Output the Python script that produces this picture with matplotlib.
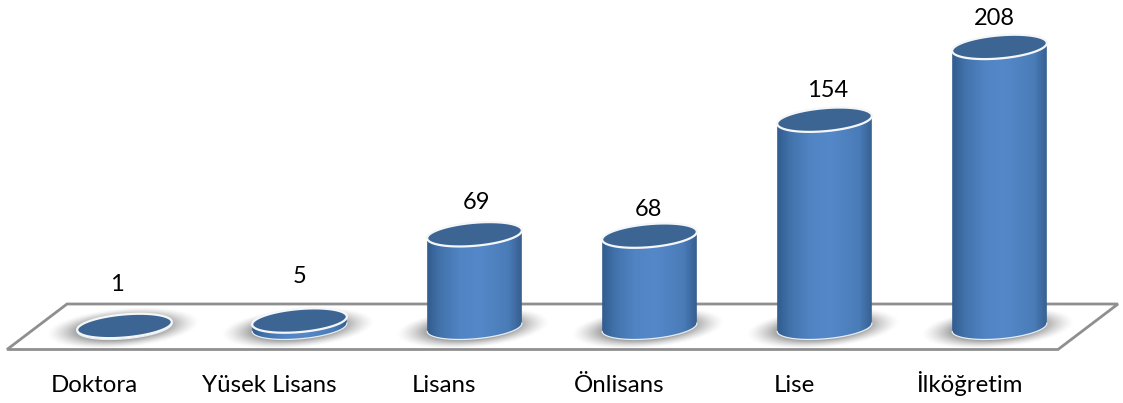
import numpy as np
import matplotlib
matplotlib.use("Agg")
import matplotlib.pyplot as plt
from matplotlib.colors import LinearSegmentedColormap, to_rgb
from matplotlib.patches import PathPatch, Polygon
from matplotlib.path import Path
from matplotlib.transforms import Affine2D

categories = ["Doktora", "Yüsek Lisans", "Lisans", "Önlisans", "Lise", "İlköğretim"]
values = [1, 5, 69, 68, 154, 208]

W, H = 1123, 403
PX_PER_CAT = 175.0
PX_PER_VAL = 1.348
X0_PX, Y0_PX = 124.5, 327.3
A, B, TILT = 47.5, 11.5, np.deg2rad(5)
label_offsets_px = [(-7.5, 35), (0, 37.6), (2, 25), (-1, 19.6), (3, 22.7), (-5, 21.9)]

plt.rcParams["font.family"] = ["Lato", "DejaVu Sans"]
fig = plt.figure(figsize=(W / 100, H / 100), dpi=100, facecolor="white")
ax = fig.add_axes([0, 0, 1, 1])
ax.set_xlim(-X0_PX / PX_PER_CAT, (W - X0_PX) / PX_PER_CAT)
ax.set_ylim((Y0_PX - H) / PX_PER_VAL, Y0_PX / PX_PER_VAL)
ax.axis("off")

pix = Affine2D().scale(1 / W, -1 / H).translate(0, 1) + fig.transFigure
ax.add_patch(Polygon([(7, 349.5), (67, 304), (1118, 304), (1058, 349.5)], closed=True,
                     fc="white", ec="#8f8f8f", lw=2.0, transform=pix, zorder=1))


def ellipse(i, v, t, a=A, b=B):
    dx = a * np.cos(t) * np.cos(TILT) - b * np.sin(t) * np.sin(TILT)
    dy = a * np.cos(t) * np.sin(TILT) + b * np.sin(t) * np.cos(TILT)
    return i + dx / PX_PER_CAT, v + dy / PX_PER_VAL


body_cmap = LinearSegmentedColormap.from_list(
    "cyl", [(0, "#2f5a8c"), (0.14, "#4272aa"), (0.35, "#5084c3"), (0.55, "#5588c9"),
            (0.85, "#4a7cb8"), (1, "#345c8c")])
grad = np.linspace(0, 1, 256)[None, :]
shadow_rgb = to_rgb("#7a7a7a")

for i, (name, v) in enumerate(zip(categories, values)):
    # soft shadow on the platform
    sx = np.linspace(-90, 90, 240)
    sy = np.linspace(-26, 26, 100)
    xx, yy = np.meshgrid(sx, sy)
    u = (xx + 2) * np.cos(TILT) + (yy + 1) * np.sin(TILT)
    w = -(xx + 2) * np.sin(TILT) + (yy + 1) * np.cos(TILT)
    r = np.sqrt((u / 77) ** 2 + (w / 20) ** 2)
    alpha = np.clip((1 - r) / 0.5, 0, 1) ** 1.4 * 0.95
    img = np.zeros(alpha.shape + (4,))
    img[..., :3] = shadow_rgb
    img[..., 3] = alpha
    ax.imshow(img, origin="lower", aspect="auto", zorder=2, interpolation="bilinear",
              extent=[i - 90 / PX_PER_CAT, i + 90 / PX_PER_CAT, -26 / PX_PER_VAL, 26 / PX_PER_VAL])

    # cylinder side
    t_low = np.linspace(np.pi, 2 * np.pi, 80)
    bx, by = ellipse(i, 0, t_low)
    t_up = np.linspace(0, np.pi, 80)
    tx, ty = ellipse(i, v, t_up)
    verts = np.vstack([np.column_stack([bx, by]), np.column_stack([tx, ty]), [[bx[0], by[0]]]])
    codes = [Path.MOVETO] + [Path.LINETO] * (len(verts) - 2) + [Path.CLOSEPOLY]
    side = PathPatch(Path(verts, codes), fc="none", ec="none", zorder=3)
    ax.add_patch(side)
    im = ax.imshow(grad, cmap=body_cmap, aspect="auto", zorder=3, interpolation="bilinear",
                   extent=[i - (A + 1) / PX_PER_CAT, i + (A + 1) / PX_PER_CAT,
                           -20 / PX_PER_VAL, v + 20 / PX_PER_VAL])
    im.set_clip_path(side)
    ax.plot(bx, by, color="#e6edf5", lw=0.9, zorder=3.5)

    # top cap
    t = np.linspace(0, 2 * np.pi, 160)
    cx, cy = ellipse(i, v, t)
    ax.fill(cx, cy, fc="#3c6594", ec="#f4f6f8", lw=1.6, zorder=4)

    dx, dy = label_offsets_px[i]
    ax.annotate(str(v), (i, v), xytext=(dx * 0.72, dy * 0.72), textcoords="offset points",
                ha="center", va="baseline", fontsize=17, color="black", zorder=5)
    ax.annotate(name, (i, 0), xytext=(-30.5 * 0.72, -64.4 * 0.72), textcoords="offset points",
                ha="center", va="baseline", fontsize=17.3, color="black", zorder=5)

ax.set_xlim(-X0_PX / PX_PER_CAT, (W - X0_PX) / PX_PER_CAT)
ax.set_ylim((Y0_PX - H) / PX_PER_VAL, Y0_PX / PX_PER_VAL)
fig.savefig("out.png", dpi=100, facecolor="white")
